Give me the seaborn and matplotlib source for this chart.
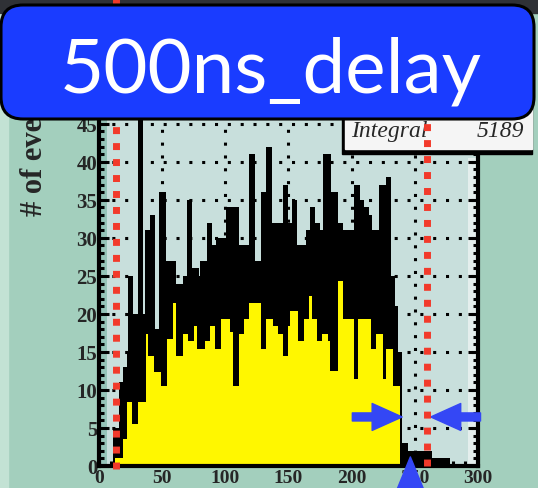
import matplotlib
matplotlib.use("Agg")
import matplotlib.pyplot as plt
import seaborn as sns
import numpy as np
from matplotlib.patches import Rectangle, FancyBboxPatch
from matplotlib.lines import Line2D
from matplotlib.transforms import IdentityTransform
from matplotlib.ticker import MultipleLocator

# black envelope of the histogram (bin edges and heights)
upper_edges = [11, 16, 19, 22, 23, 27, 31, 35, 36.5, 40.5, 44.5, 48, 53, 61, 67, 70, 74, 79, 80,
               85.5, 89.5, 93, 100.5, 111, 119, 124, 128, 132, 137, 146, 150, 153, 157, 164, 167,
               171, 175, 177.5, 184, 189, 193, 202, 207, 210, 214, 216, 222, 227, 231, 234, 237,
               240, 245, 264, 278]
upper_counts = [5, 11, 13, 15, 25, 20, 50, 20, 31, 33, 18, 36, 27, 24, 25, 35, 26, 25, 27, 32,
                29, 30, 34, 29, 41, 27, 36, 42, 32, 37, 32, 35, 29, 31, 34, 32, 31, 41, 36, 32,
                31, 37, 35, 34, 33, 31, 37, 38, 25, 21, 15, 3, 2, 1]

# yellow fill level
lower_edges = [13, 19, 22, 26, 31, 37.5, 39, 44, 49, 54, 59, 61, 67, 71, 75, 78, 84, 88, 92, 97,
               104, 106, 111, 115, 119, 128, 132, 138, 142, 146, 150, 151, 158, 162, 166, 169,
               173, 177, 181, 183, 189, 193, 202, 205, 215, 219, 224.5, 227, 232.5, 238.5]
lower_counts = [1, 3.5, 8.4, 5.5, 8.4, 17.4, 14.5, 12.4, 10.5, 16.7, 21.5, 14.5, 17.4, 16.5,
                18.4, 15.4, 16.5, 18.4, 15.4, 19.3, 17.6, 10.5, 17.4, 19.3, 21.5, 15.4, 19.3,
                18.4, 17.4, 14.5, 18.4, 20.4, 16.5, 19.3, 22.4, 19.3, 16.5, 17.4, 16.5, 12.5,
                24.3, 19.3, 11.4, 19.3, 15.4, 17.4, 11.4, 15.4, 10.5]

cut_lines = [14, 260]
title = "500ns_delay"
integral = 5189

sns.set_style("white")

W, H = 538, 489
fig = plt.figure(figsize=(W / 100, H / 100), dpi=100)
fig.patch.set_facecolor("#a3cfbd")
pix = IdentityTransform()

# slide decorations behind everything
fig.add_artist(Rectangle((0, 0), 8, H, color="#c3e2d4", transform=pix, zorder=-2))
fig.add_artist(Rectangle((0, H - 14), W, 14, color="#2f3136", transform=pix, zorder=-1))

ax = fig.add_axes([98.7 / W, 22 / H, (478 - 98.7) / W, (467 - 102) / H])
ax.set_facecolor("#c8dfdc")
ax.add_patch(Rectangle((0, 0), 6.5, 48, color="#95c4b8", zorder=0.3, lw=0))
ax.add_patch(Rectangle((292, 0), 7.5, 40.5, color="#e4eeed", zorder=0.3, lw=0))

up_c = [(a + b) / 2 for a, b in zip(upper_edges[:-1], upper_edges[1:])]
lo_c = [(a + b) / 2 for a, b in zip(lower_edges[:-1], lower_edges[1:])]
sns.histplot(x=up_c, weights=upper_counts, bins=upper_edges, element="step", fill=True,
             color="black", alpha=1, linewidth=0, ax=ax, zorder=2)
sns.histplot(x=lo_c, weights=lower_counts, bins=lower_edges, element="step", fill=True,
             color="#fff700", alpha=1, linewidth=0, ax=ax, zorder=2.2)

ax.set_xlim(0, 300)
ax.set_ylim(0, 48)
ax.set_xlabel("")
ax.set_ylabel("")
ax.xaxis.set_major_locator(MultipleLocator(50))
ax.xaxis.set_minor_locator(MultipleLocator(10))
ax.yaxis.set_major_locator(MultipleLocator(5))
ax.yaxis.set_minor_locator(MultipleLocator(1))
ax.set_axisbelow(True)
ax.grid(True, which="major", color="black", linestyle=(0, (1, 3.2)), linewidth=2.2)

for s in ["left", "bottom", "right"]:
    ax.spines[s].set_linewidth(3)
    ax.spines[s].set_color("black")
ax.spines["top"].set_visible(False)
ax.tick_params(which="both", direction="in", right=True, left=True, bottom=True, top=False,
               color="black", width=2.2)
ax.tick_params(which="major", length=7.5)
ax.tick_params(which="minor", length=3.6)
ax.tick_params(axis="y", pad=1)
ax.tick_params(axis="x", pad=2)
for lab in ax.get_xticklabels():
    lab.set_fontfamily("Liberation Serif")
    lab.set_fontweight("bold")
    lab.set_fontsize(14)
for lab in ax.get_yticklabels():
    lab.set_fontfamily("Liberation Serif")
    lab.set_fontweight("bold")
    lab.set_fontsize(15)

blue = "#3447f5"
ax.annotate("", xy=(240, 6.45), xytext=(200.6, 6.45), annotation_clip=False, zorder=6,
            arrowprops=dict(arrowstyle="simple,head_length=1.08,head_width=0.97,tail_width=0.29",
                            mutation_scale=20, color=blue, shrinkA=0, shrinkB=0))
ax.annotate("", xy=(262.6, 6.45), xytext=(302, 6.45), annotation_clip=False, zorder=6,
            arrowprops=dict(arrowstyle="simple,head_length=1.08,head_width=0.97,tail_width=0.29",
                            mutation_scale=20, color=blue, shrinkA=0, shrinkB=0))
ax.annotate("", xy=(246.5, 1.2), xytext=(246.5, -12), annotation_clip=False, zorder=6,
            arrowprops=dict(arrowstyle="simple,head_length=1.22,head_width=1.0,tail_width=0.29",
                            mutation_scale=20, color=blue, shrinkA=0, shrinkB=0))

# statistics box
fig.add_artist(Rectangle((342, H - 155), 190, 65, color="black", transform=pix, zorder=2))
fig.add_artist(Rectangle((345, H - 150), 187, 60, color="#f5f5f5", transform=pix, zorder=2.1))
fig.text(351 / W, 1 - 137 / H, "Integral", style="italic", family="Liberation Serif",
         fontsize=17, va="baseline", ha="left", zorder=2.5)
fig.text(524 / W, 1 - 137 / H, str(integral), style="italic", family="Liberation Serif",
         fontsize=17, va="baseline", ha="right", zorder=2.5)

# red cut lines, drawn over the stats box
fig.add_artist(Line2D([cut_lines[0]] * 2, [-0.4, 62], transform=ax.transData, color="#f23a2b",
                      lw=5, linestyle=(0, (1, 1.3)), zorder=3))
fig.add_artist(Line2D([cut_lines[1]] * 2, [0, 48], transform=ax.transData, color="#f23a2b",
                      lw=5, linestyle=(0, (1, 1.3)), zorder=3))

fig.text(35 / W, 1 - 216 / H, "# of events", rotation=90, ha="center", va="bottom",
         fontsize=22, fontweight="bold", family="Liberation Serif", zorder=3)

# title banner
fig.add_artist(FancyBboxPatch((1, H - 120), 533, 114, boxstyle="round,pad=0,rounding_size=22",
                              facecolor="#1a3cff", edgecolor="black", lw=2.2, transform=pix,
                              zorder=4))
fig.text(271 / W, 1 - 93 / H, title, ha="center", va="baseline", fontsize=55, family="Lato",
         color="white", zorder=5)

fig.savefig("out.png", dpi=100)
